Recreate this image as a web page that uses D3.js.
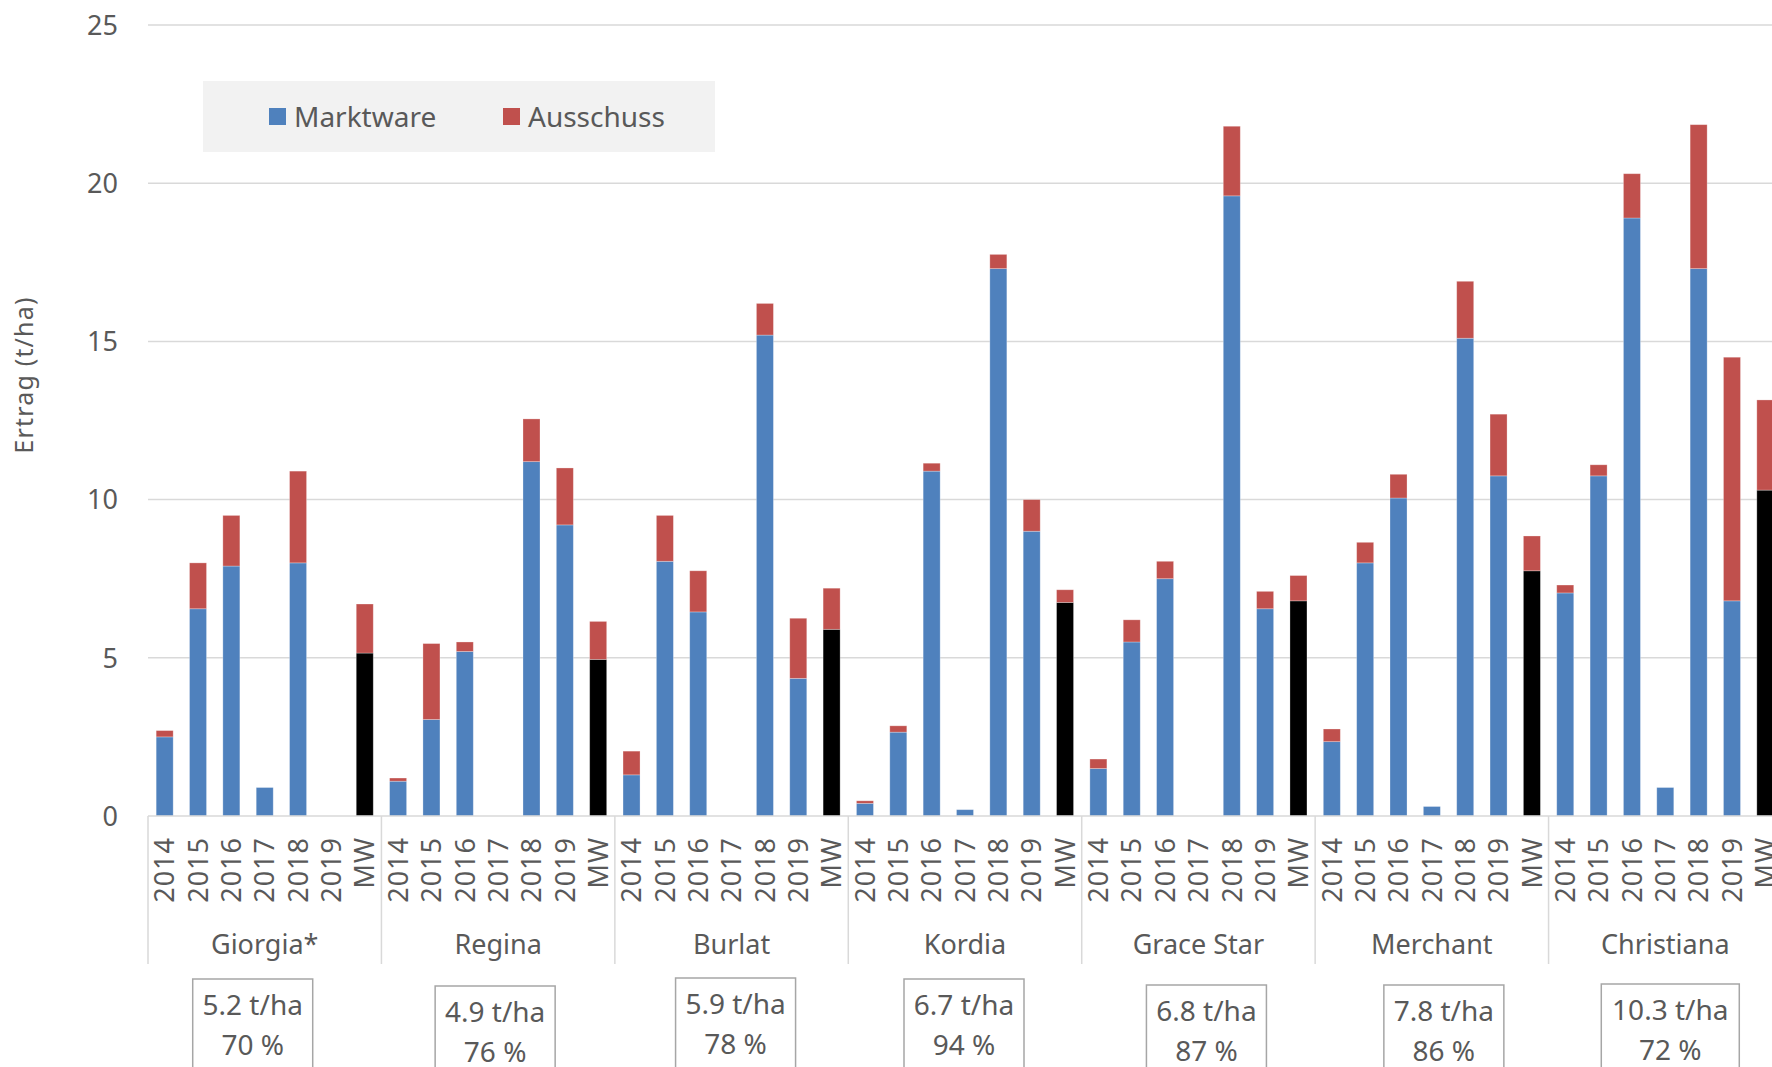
<!DOCTYPE html>
<html>
<head>
<meta charset="utf-8">
<script src="https://cdn.jsdelivr.net/npm/d3@7"></script>
<style>
  html, body { margin: 0; padding: 0; background: #fff; overflow: hidden; }
  svg { display: block; font-family: "Noto Sans", "Open Sans", sans-serif; }
</style>
</head>
<body>
<svg id="chart"></svg>
<script>
// Sorten und Jahre
const varieties = ['Giorgia*', 'Regina', 'Burlat', 'Kordia', 'Grace Star', 'Merchant', 'Christiana'];
const years = ['2014', '2015', '2016', '2017', '2018', '2019', 'MW'];

// Marktware (t/ha), je Sorte 2014..2019, MW
const marktware = [
  [2.5, 6.55, 7.9, 0.9, 8.0, 0, 5.15],
  [1.1, 3.05, 5.2, 0, 11.2, 9.2, 4.95],
  [1.3, 8.05, 6.45, 0, 15.2, 4.35, 5.9],
  [0.4, 2.65, 10.9, 0.2, 17.3, 9.0, 6.75],
  [1.5, 5.5, 7.5, 0, 19.6, 6.55, 6.8],
  [2.35, 8.0, 10.05, 0.3, 15.1, 10.75, 7.75],
  [7.05, 10.75, 18.9, 0.9, 17.3, 6.8, 10.3]
];

// Ausschuss (t/ha)
const ausschuss = [
  [0.2, 1.45, 1.6, 0, 2.9, 0, 1.55],
  [0.1, 2.4, 0.3, 0, 1.35, 1.8, 1.2],
  [0.75, 1.45, 1.3, 0, 1.0, 1.9, 1.3],
  [0.08, 0.2, 0.25, 0, 0.45, 1.0, 0.4],
  [0.3, 0.7, 0.55, 0, 2.2, 0.55, 0.8],
  [0.4, 0.65, 0.75, 0, 1.8, 1.95, 1.1],
  [0.25, 0.35, 1.4, 0, 4.55, 7.7, 2.85]
];

// Kästchen unter den Sorten
const meanYield = ['5.2 t/ha', '4.9 t/ha', '5.9 t/ha', '6.7 t/ha', '6.8 t/ha', '7.8 t/ha', '10.3 t/ha'];
const marketShare = ['70 %', '76 %', '78 %', '94 %', '87 %', '86 %', '72 %'];

const yTicks = [0, 5, 10, 15, 20, 25];

const width = 1772;
const height = 1067;
const textColor = '#595959';
const gridColor = '#d9d9d9';
const blue = '#4f81bd';
const red = '#c0504d';

const svg = d3.select('#chart')
  .attr('width', width)
  .attr('height', height);

const plotLeft = 148;
const plotRight = 1782; // chart runs past the right edge, as in the original
const plotTop = 25;
const plotBottom = 816;

// flatten into rows
const rows = [];
varieties.forEach((v, i) => {
  years.forEach((yr, j) => {
    rows.push({
      key: v + '|' + yr,
      variety: v,
      year: yr,
      Marktware: marktware[i][j],
      Ausschuss: ausschuss[i][j]
    });
  });
});

const x = d3.scaleBand()
  .domain(rows.map(d => d.key))
  .range([plotLeft, plotRight])
  .paddingInner(0.49)
  .paddingOuter(0.245);

const y = d3.scaleLinear()
  .domain([0, 25])
  .range([plotBottom, plotTop]);

// gridlines
svg.append('g')
  .selectAll('line')
  .data(yTicks.filter(t => t > 0))
  .enter()
  .append('line')
  .attr('x1', plotLeft)
  .attr('x2', width)
  .attr('y1', d => y(d))
  .attr('y2', d => y(d))
  .attr('stroke', gridColor)
  .attr('stroke-width', 1.5);

// y axis labels
svg.append('g')
  .selectAll('text')
  .data(yTicks)
  .enter()
  .append('text')
  .attr('x', 118)
  .attr('y', d => y(d))
  .attr('dy', '0.36em')
  .attr('text-anchor', 'end')
  .attr('font-size', '27px')
  .attr('fill', textColor)
  .text(d => d);

svg.append('text')
  .attr('transform', `translate(33, 375) rotate(-90)`)
  .attr('text-anchor', 'middle')
  .attr('font-size', '25px')
  .attr('letter-spacing', '1.2px')
  .attr('fill', textColor)
  .text('Ertrag (t/ha)');

// stacked bars
const stack = d3.stack().keys(['Marktware', 'Ausschuss']);
const series = stack(rows);

svg.append('g')
  .selectAll('g')
  .data(series)
  .enter()
  .append('g')
  .selectAll('rect')
  .data(s => s.map(p => ({ key: s.key, p })))
  .enter()
  .filter(d => d.p[1] - d.p[0] > 0)
  .append('rect')
  .attr('x', d => x(d.p.data.key))
  .attr('width', x.bandwidth())
  .attr('y', d => y(d.p[1]))
  .attr('height', d => y(d.p[0]) - y(d.p[1]))
  .attr('fill', d => d.key === 'Ausschuss' ? red : (d.p.data.year === 'MW' ? '#000' : blue))
  .attr('stroke', '#fff')
  .attr('stroke-opacity', 0.35)
  .attr('stroke-width', 0.8);

// category axis
const axis = svg.append('g');
axis.append('line')
  .attr('x1', plotLeft)
  .attr('x2', width)
  .attr('y1', plotBottom)
  .attr('y2', plotBottom)
  .attr('stroke', gridColor)
  .attr('stroke-width', 1.5);

const groupWidth = x.step() * years.length;
const bounds = d3.range(varieties.length + 1).map(i => plotLeft + i * groupWidth);

axis.selectAll('line.sep')
  .data(bounds)
  .enter()
  .append('line')
  .attr('class', 'sep')
  .attr('x1', d => d)
  .attr('x2', d => d)
  .attr('y1', plotBottom)
  .attr('y2', 964)
  .attr('stroke', gridColor)
  .attr('stroke-width', 1.5);

axis.selectAll('text.year')
  .data(rows)
  .enter()
  .append('text')
  .attr('class', 'year')
  .attr('transform', d => `translate(${x(d.key) + x.bandwidth() / 2}, 837) rotate(-90)`)
  .attr('text-anchor', 'end')
  .attr('dy', '0.36em')
  .attr('font-size', '27px')
  .attr('letter-spacing', '1px')
  .attr('fill', textColor)
  .text(d => d.year);

axis.selectAll('text.variety')
  .data(varieties)
  .enter()
  .append('text')
  .attr('class', 'variety')
  .attr('x', (d, i) => bounds[i] + groupWidth / 2)
  .attr('y', 954)
  .attr('text-anchor', 'middle')
  .attr('font-size', '27px')
  .attr('fill', textColor)
  .text(d => d);

// boxes below
const boxShift = [-12, -3, 4, -1, 8, 12, 5];
const boxDrop = [0, 7, -1, 0, 6, 6, 5];
const boxW = [120, 120, 120, 120, 120, 120, 138];

const boxes = svg.append('g')
  .selectAll('g')
  .data(varieties)
  .enter()
  .append('g')
  .attr('transform', (d, i) => `translate(${bounds[i] + groupWidth / 2 + boxShift[i]}, ${979 + boxDrop[i]})`);

boxes.append('rect')
  .attr('x', (d, i) => -boxW[i] / 2)
  .attr('y', 0)
  .attr('width', (d, i) => boxW[i])
  .attr('height', 100)
  .attr('fill', '#fff')
  .attr('stroke', '#a6a6a6')
  .attr('stroke-width', 1.5);

boxes.append('text')
  .attr('y', 36)
  .attr('text-anchor', 'middle')
  .attr('font-size', '28px')
  .attr('fill', textColor)
  .text((d, i) => meanYield[i]);

boxes.append('text')
  .attr('y', 76)
  .attr('text-anchor', 'middle')
  .attr('font-size', '28px')
  .attr('fill', textColor)
  .text((d, i) => marketShare[i]);

// legend
const legend = svg.append('g');
legend.append('rect')
  .attr('x', 203)
  .attr('y', 81)
  .attr('width', 512)
  .attr('height', 71)
  .attr('fill', '#f2f2f2');

const legendItems = [
  { name: 'Marktware', color: blue, x: 269 },
  { name: 'Ausschuss', color: red, x: 503 }
];

const li = legend.selectAll('g')
  .data(legendItems)
  .enter()
  .append('g')
  .attr('transform', d => `translate(${d.x}, 108)`);

li.append('rect')
  .attr('width', 17)
  .attr('height', 17)
  .attr('fill', d => d.color);

li.append('text')
  .attr('x', 25)
  .attr('y', 19)
  .attr('font-size', '28px')
  .attr('fill', textColor)
  .text(d => d.name);
</script>
</body>
</html>
